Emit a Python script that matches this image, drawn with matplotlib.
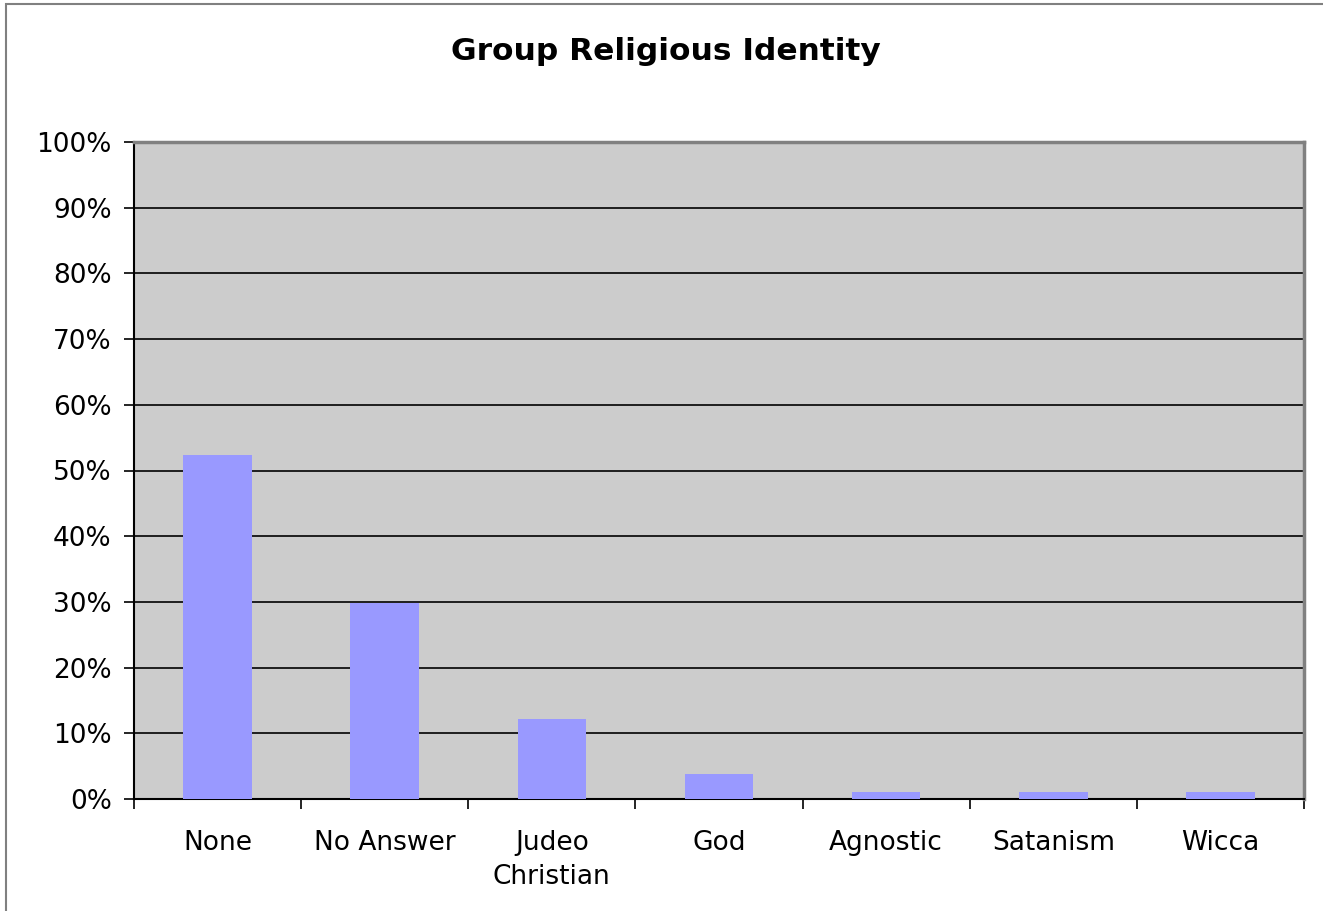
import matplotlib.pyplot as plt
from matplotlib.patches import Rectangle
from matplotlib.ticker import FuncFormatter, FixedLocator

categories = ["None", "No Answer", "Judeo\nChristian", "God", "Agnostic", "Satanism", "Wicca"]
shares = [52.4, 29.9, 12.2, 3.8, 1.1, 1.1, 1.1]
y_ticks = list(range(0, 101, 10))

fig = plt.figure(figsize=(13.23, 9.11), dpi=100)
ax = fig.add_axes([134 / 1323, 112 / 911, 1170 / 1323, 657 / 911])

# outer chart border (cropped at right and bottom in the reference)
fig.patches.append(Rectangle((6 / 1323, -0.1), 1.2, 0.1 + 907 / 911, transform=fig.transFigure,
                             facecolor='none', edgecolor='#808080', linewidth=1.5))

ax.set_facecolor('#cccccc')
x = list(range(len(categories)))
ax.bar(x, shares, width=0.41, color='#9999ff', zorder=3)

ax.set_xlim(-0.5, len(categories) - 0.5)
ax.set_ylim(0, 100)
ax.set_yticks(y_ticks)
ax.yaxis.set_major_formatter(FuncFormatter(lambda v, p: f"{v:.0f}%"))
ax.grid(axis='y', color='black', linewidth=1.2, zorder=1)
ax.set_axisbelow(True)

# ticks on category boundaries, labels at category centres
ax.xaxis.set_major_locator(FixedLocator([i - 0.5 for i in range(len(categories) + 1)]))
ax.xaxis.set_major_formatter(FuncFormatter(lambda v, p: ""))
ax.set_xticks(x, minor=True)
ax.set_xticklabels(categories, minor=True, fontsize=19, linespacing=1.4)
ax.tick_params(axis='x', which='minor', length=0, pad=22)
ax.tick_params(axis='x', which='major', length=7, width=1.2, direction='out')
ax.tick_params(axis='y', length=7, width=1.2, labelsize=19, pad=9)

for side in ['top', 'right']:
    ax.spines[side].set_color('#808080')
    ax.spines[side].set_linewidth(2.5)
for side in ['left', 'bottom']:
    ax.spines[side].set_color('black')
    ax.spines[side].set_linewidth(1.5)

fig.text(666 / 1323, 1 - 51 / 911, "Group Religious Identity", ha='center', va='center',
         fontsize=22.5, fontweight='bold')

fig.savefig("out.png", dpi=100)
